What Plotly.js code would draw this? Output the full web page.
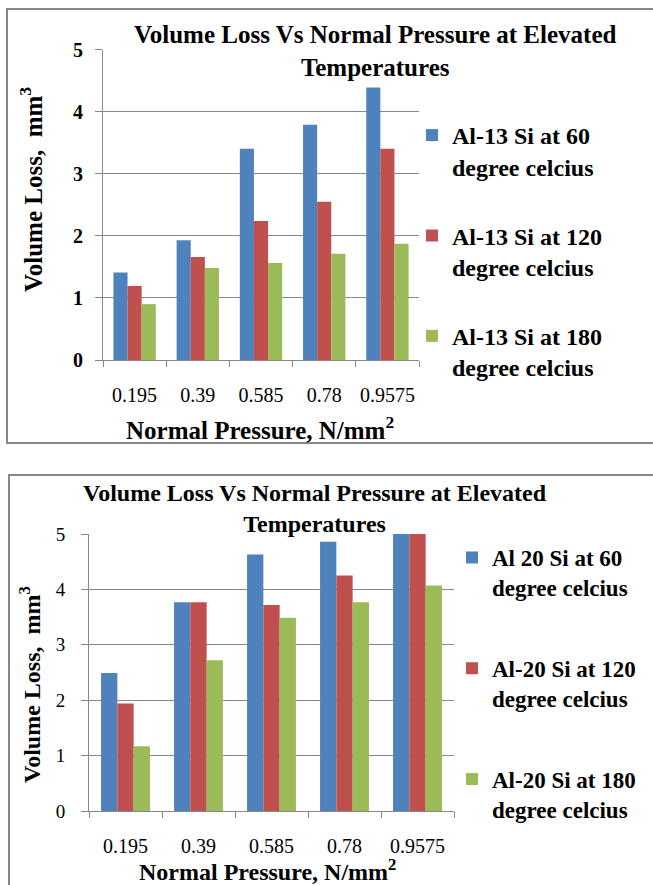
<!DOCTYPE html>
<html>
<head>
<meta charset="utf-8">
<script src="https://cdn.plot.ly/plotly-3.0.1.min.js"></script>
<style>
  html, body { margin: 0; padding: 0; background: #ffffff; }
  #chart { width: 653px; height: 885px; }
</style>
</head>
<body>
<div id="chart"></div>
<script>
// Normal pressure categories (N/mm²)
const pressure = ['0.195', '0.39', '0.585', '0.78', '0.9575'];

// Al-13 Si volume loss (mm³)
const al13At60 = [1.41, 1.93, 3.40, 3.79, 4.39];
const al13At120 = [1.19, 1.66, 2.24, 2.55, 3.40];
const al13At180 = [0.90, 1.48, 1.56, 1.71, 1.87];

// Al-20 Si volume loss (mm³)
const al20At60 = [2.49, 3.77, 4.63, 4.86, 5.00];
const al20At120 = [1.94, 3.77, 3.72, 4.25, 5.00];
const al20At180 = [1.17, 2.72, 3.49, 3.77, 4.07];

const namesTop = ['Al-13 Si at 60<br>degree celcius', 'Al-13 Si at 120<br>degree celcius', 'Al-13 Si at 180<br>degree celcius'];
const namesBottom = ['Al 20 Si at 60<br>degree celcius', 'Al-20 Si at 120<br>degree celcius', 'Al-20 Si at 180<br>degree celcius'];
const chartTitle = 'Volume Loss Vs Normal Pressure at Elevated<br>Temperatures';
const xTitle = 'Normal Pressure, N/mm<sup>2</sup>';
const yTitle = 'Volume Loss,  mm<sup>3</sup>';

const colors = ['#4F81BD', '#C0504D', '#9BBB59'];
const serif = 'Liberation Serif';
const W = 653, H = 885;
const px = v => v / W;          // pixel x -> paper
const py = v => 1 - v / H;      // pixel y (from top) -> paper
const grey = '#888888';

function bars(series, names, xa, ya, legendId) {
  return series.map((vals, i) => ({
    type: 'bar',
    x: pressure,
    y: vals,
    name: names[i],
    xaxis: xa,
    yaxis: ya,
    legend: legendId,
    legendgroup: legendId + i,
    marker: { color: colors[i], line: { width: 0 } },
    hoverinfo: 'skip'
  }));
}

const data = [
  ...bars([al13At60, al13At120, al13At180], namesTop, 'x', 'y', 'legend'),
  ...bars([al20At60, al20At120, al20At180], namesBottom, 'x2', 'y2', 'legend2')
];

function xAxis(domain, anchor, size) {
  return {
    domain: domain, anchor: anchor, type: 'category',
    showgrid: false, showline: true, linecolor: grey, linewidth: 1,
    ticks: 'outside', tickson: 'boundaries', ticklen: 6, tickcolor: grey,
    tickangle: 0, ticklabelstandoff: 17,
    tickfont: { family: serif, size: size, color: '#000' },
    fixedrange: true
  };
}
function yAxis(domain, anchor, size, weight, standoff) {
  return {
    domain: domain, anchor: anchor, range: [0, 5], dtick: 1,
    showgrid: true, gridcolor: grey, gridwidth: 1,
    showline: true, linecolor: grey, linewidth: 1, zeroline: false,
    ticks: 'outside', ticklen: 7, tickcolor: grey,
    ticklabelstandoff: standoff,
    tickfont: { family: serif, size: size, color: '#000', weight: weight },
    fixedrange: true
  };
}

function legendBox(xLeft, yTop, size, gap) {
  return {
    x: px(xLeft), y: py(yTop), xanchor: 'left', yanchor: 'top',
    bgcolor: 'rgba(0,0,0,0)', borderwidth: 0,
    font: { family: serif, size: size, color: '#000', weight: 'bold' },
    traceorder: 'grouped', tracegroupgap: gap, valign: 'top',
    itemclick: false, itemdoubleclick: false
  };
}

function note(text, x, y, size, angle) {
  return {
    text: text, xref: 'paper', yref: 'paper', x: px(x), y: py(y),
    xanchor: 'center', yanchor: 'middle', showarrow: false,
    textangle: angle || 0,
    font: { family: serif, size: size, color: '#000', weight: 'bold' }
  };
}

const layout = {
  width: W, height: H,
  margin: { l: 0, r: 0, t: 0, b: 0 },
  paper_bgcolor: '#ffffff', plot_bgcolor: '#ffffff',
  bargap: 0.33, bargroupgap: 0, barmode: 'group',
  showlegend: true,
  xaxis: xAxis([px(103), px(419)], 'y', 20),
  yaxis: yAxis([py(360), py(49.5)], 'x', 20, 'bold', 8),
  xaxis2: xAxis([px(89), px(454)], 'y2', 20),
  yaxis2: yAxis([py(811), py(534)], 'x2', 19, 'normal', 12),
  legend: legendBox(412, 113, 24, 35),
  legend2: legendBox(452, 536, 23, 48),
  annotations: [
    note(chartTitle, 375, 51, 25),
    note(xTitle, 260, 428, 25),
    note(yTitle, 31, 190, 25, -90),
    note(chartTitle, 315, 508, 24),
    note(xTitle, 267, 870, 24),
    note(yTitle, 30, 685, 24, -90)
  ],
  shapes: [
    { type: 'rect', xref: 'paper', yref: 'paper', x0: px(7), x1: 1.05, y0: py(443), y1: py(9),
      line: { color: grey, width: 2 }, layer: 'below' },
    { type: 'rect', xref: 'paper', yref: 'paper', x0: px(9), x1: 1.05, y0: -0.05, y1: py(475),
      line: { color: grey, width: 2 }, layer: 'below' }
  ]
};

Plotly.newPlot('chart', data, layout, { displayModeBar: false, staticPlot: true });
</script>
</body>
</html>
